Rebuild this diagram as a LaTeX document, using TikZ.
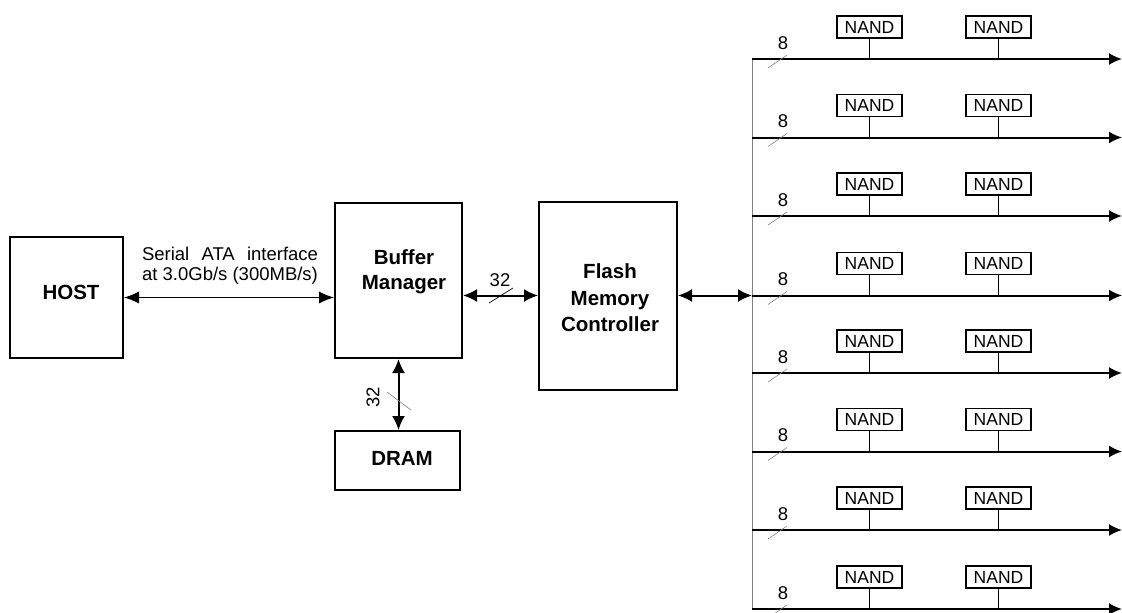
\documentclass[tikz,border=0pt]{standalone}
\usepackage{fontspec}
\setmainfont{Liberation Sans}
\usetikzlibrary{arrows.meta}
\tikzset{
  blk/.style={draw, line width=2pt, inner sep=0pt},
  btxt/.style={font=\fontsize{20.5}{25}\selectfont\bfseries, align=center, inner sep=0pt},
  rtxt/.style={font=\fontsize{18.5}{20}\selectfont, inner sep=0pt},
  nand/.style={draw, line width=1.6pt, minimum width=65pt, minimum height=22pt, inner sep=0pt, font=\fontsize{17.5}{17.5}\selectfont},
  thickarr/.style={line width=2pt, {Latex[length=14pt,width=13pt]}-{Latex[length=14pt,width=13pt]}},
  thinarr/.style={line width=1pt, {Latex[length=15pt,width=12pt]}-{Latex[length=15pt,width=12pt]}},
  busarr/.style={line width=2pt, -{Latex[length=13pt,width=12pt]}},
  slashmark/.style={line width=0.6pt, gray},
}
\begin{document}
\begin{tikzpicture}[x=1pt,y=-1pt]
\useasboundingbox (0,0) rectangle (1122,613);
% blocks
\node[blk, minimum width=113pt, minimum height=121pt] (host) at (66.5,297.5) {};
\node[btxt] (hostt) at (71,292) {HOST};
\node[blk, minimum width=127pt, minimum height=155pt] (buf) at (398.5,280.5) {};
\node[btxt] (buft) at (404,272) {Buffer\\Manager};
\node[blk, minimum width=138pt, minimum height=188pt] (flash) at (608,295.5) {};
\node[btxt, font=\fontsize{20.5}{26.5}\selectfont\bfseries] (flasht) at (610,298) {Flash\\Memory\\Controller};
\node[blk, minimum width=125pt, minimum height=59pt] (dram) at (397.5,460.5) {};
\node[btxt] (dramt) at (402,458) {DRAM};
% host - buffer
\draw[thinarr] (host.east) -- (buf.west |- host.east);
\node[rtxt, align=center] (sata) at (230,266) {\makebox[176pt][s]{Serial ATA interface}\\at 3.0Gb/s (300MB/s)};
% buffer - flash
\draw[thickarr] (buf.east |- flash.west) -- (flash.west);
\node[rtxt] (w32a) at (500,280) {32};
\coordinate (s1a) at (489,303);
\coordinate (s1b) at (513,288);
\draw[line width=0.7pt] (s1a) -- (s1b);
% buffer - dram
\draw[thickarr] (buf.south) -- (buf.south |- dram.north);
\node[rtxt, rotate=90] (w32b) at (373,397) {32};
\coordinate (s2a) at (387,392);
\coordinate (s2b) at (411,410);
\draw[slashmark] (s2a) -- (s2b);
% buses
\coordinate (vtop) at (752,59);
\coordinate (vbot) at (752,609);
\draw[gray, line width=1pt] (vtop) -- (vbot);
\foreach \i/\y in {1/59,2/137.5,3/216,4/295.5,5/373,6/451.5,7/530,8/609}{
  \coordinate (busL\i) at (752,\y);
  \coordinate (busR\i) at (1122,\y);
  \draw[busarr] (busL\i) -- (busR\i);
  \node[nand] (na\i) at (869.5,\y-32) {NAND};
  \node[nand] (nb\i) at (998.5,\y-32) {NAND};
  \draw[line width=0.8pt] (na\i.south) -- (na\i.south |- busL\i);
  \draw[line width=0.8pt] (nb\i.south) -- (nb\i.south |- busL\i);
  \node[rtxt] (eight\i) at (783,\y-16) {8};
  \coordinate (sa\i) at (768,\y+9);
  \coordinate (sb\i) at (787,\y-4);
  \draw[slashmark] (sa\i) -- (sb\i);
}
% flash - bus
\draw[thickarr] (flash.east) -- (busL4);
\end{tikzpicture}
\end{document}
